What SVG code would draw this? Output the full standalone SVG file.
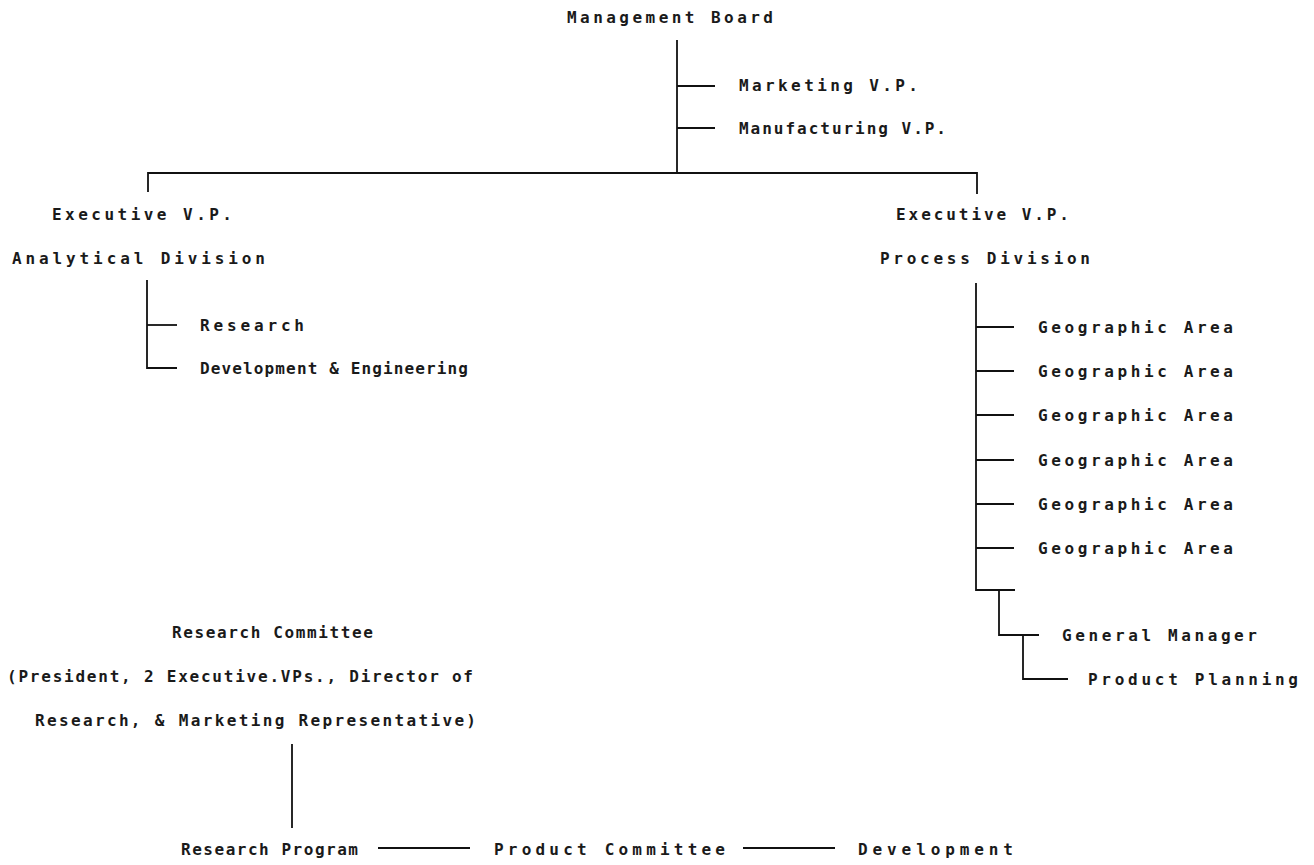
<svg xmlns="http://www.w3.org/2000/svg" width="1314" height="865" viewBox="0 0 1314 865">
<style>
text{font-family:"DejaVu Sans Mono","Liberation Mono",monospace;font-size:16px;font-weight:bold;fill:#1a1a1a}
.c line,.c path{stroke:#111;stroke-width:1.8;fill:none}
</style>
<rect width="1314" height="865" fill="#fff"/>
<g class="c" id="connectors">
<line x1="677" y1="40" x2="677" y2="173"/>
<line x1="677" y1="86" x2="715" y2="86"/>
<line x1="677" y1="128" x2="715" y2="128"/>
<path d="M148 192 V173 H977 V194"/>
<path d="M147 280 V368 H177"/>
<line x1="147" y1="325" x2="177" y2="325"/>
<path d="M976 283 V590 H1015"/>
<line x1="976" y1="327" x2="1014" y2="327"/>
<line x1="976" y1="371" x2="1014" y2="371"/>
<line x1="976" y1="415" x2="1014" y2="415"/>
<line x1="976" y1="460" x2="1014" y2="460"/>
<line x1="976" y1="504" x2="1014" y2="504"/>
<line x1="976" y1="548" x2="1014" y2="548"/>
<path d="M999 590 V635 H1039"/>
<path d="M1023 635 V679 H1068"/>
<line x1="292" y1="744" x2="292" y2="828"/>
<line x1="378" y1="848" x2="470" y2="848"/>
<line x1="743" y1="848" x2="835" y2="848"/>
</g>
<g id="management-board"><text x="567" y="23" textLength="206" lengthAdjust="spacing">Management Board</text></g>
<g id="marketing-vp"><text x="739" y="91" textLength="179" lengthAdjust="spacing">Marketing V.P.</text></g>
<g id="manufacturing-vp"><text x="739" y="134" textLength="207" lengthAdjust="spacing">Manufacturing V.P.</text></g>
<g id="evp-analytical">
<text x="52" y="220" textLength="180" lengthAdjust="spacing">Executive V.P.</text>
<text x="12" y="264" textLength="253" lengthAdjust="spacing">Analytical Division</text>
</g>
<g id="research"><text x="200" y="331" textLength="104" lengthAdjust="spacing">Research</text></g>
<g id="dev-eng"><text x="200" y="374" textLength="268" lengthAdjust="spacing">Development &amp; Engineering</text></g>
<g id="evp-process">
<text x="896" y="220" textLength="173" lengthAdjust="spacing">Executive V.P.</text>
<text x="880" y="264" textLength="210" lengthAdjust="spacing">Process Division</text>
</g>
<g id="geo1"><text x="1038" y="333" textLength="195" lengthAdjust="spacing">Geographic Area</text></g>
<g id="geo2"><text x="1038" y="377" textLength="195" lengthAdjust="spacing">Geographic Area</text></g>
<g id="geo3"><text x="1038" y="421" textLength="195" lengthAdjust="spacing">Geographic Area</text></g>
<g id="geo4"><text x="1038" y="466" textLength="195" lengthAdjust="spacing">Geographic Area</text></g>
<g id="geo5"><text x="1038" y="510" textLength="195" lengthAdjust="spacing">Geographic Area</text></g>
<g id="geo6"><text x="1038" y="554" textLength="195" lengthAdjust="spacing">Geographic Area</text></g>
<g id="general-manager"><text x="1062" y="641" textLength="195" lengthAdjust="spacing">General Manager</text></g>
<g id="product-planning"><text x="1088" y="685" textLength="210" lengthAdjust="spacing">Product Planning</text></g>
<g id="research-committee">
<text x="172" y="638" textLength="201" lengthAdjust="spacing">Research Committee</text>
<text x="7" y="682" textLength="466" lengthAdjust="spacing">(President, 2 Executive.VPs., Director of</text>
<text x="35" y="726" textLength="441" lengthAdjust="spacing">Research, &amp; Marketing Representative)</text>
</g>
<g id="research-program"><text x="181" y="855" textLength="177" lengthAdjust="spacing">Research Program</text></g>
<g id="product-committee"><text x="494" y="855" textLength="231" lengthAdjust="spacing">Product Committee</text></g>
<g id="development"><text x="858" y="855" textLength="155" lengthAdjust="spacing">Development</text></g>
</svg>
